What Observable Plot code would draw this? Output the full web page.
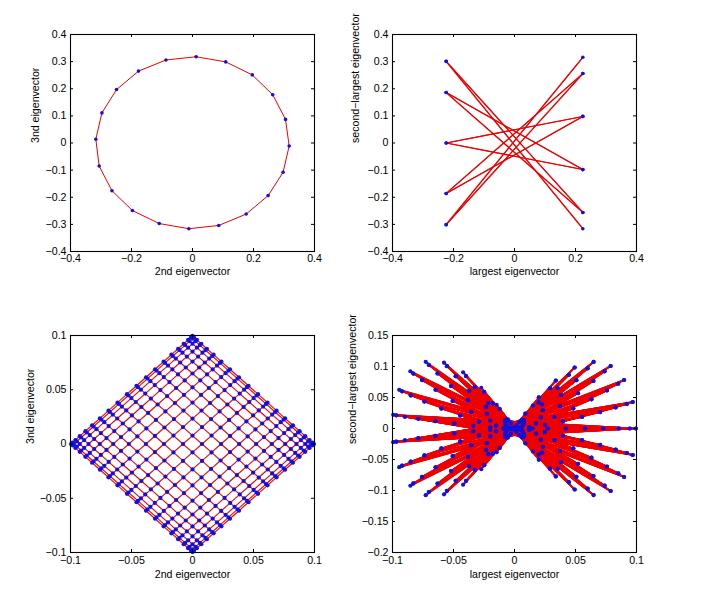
<!DOCTYPE html>
<html><head><meta charset="utf-8">
<script src="https://cdn.jsdelivr.net/npm/d3@7"></script>
<script src="https://cdn.jsdelivr.net/npm/@observablehq/plot@0.6"></script>
<style>
body{margin:0;background:#fff}
#c{position:relative;width:707px;height:610px;background:#fff;overflow:hidden}
#c svg{position:absolute}
</style>
</head><body><div id="c"></div>
<script>
// ---- Panel 1: ring graph, 2nd vs 3rd eigenvector
const ringX = [0.012, 0.109, 0.196, 0.263, 0.305, 0.317, 0.297, 0.248, 0.176, 0.086,
               -0.012, -0.109, -0.197, -0.264, -0.306, -0.317, -0.297, -0.249, -0.177, -0.087];
const ringY = [0.318, 0.299, 0.251, 0.178, 0.087, -0.011, -0.108, -0.194, -0.262, -0.304,
               -0.316, -0.297, -0.249, -0.176, -0.085, 0.014, 0.111, 0.197, 0.265, 0.306];

// ---- Panel 2: ring graph, largest vs second-largest eigenvector
const bipX = [0.224, -0.224, 0.224, -0.224, 0.224, -0.224, 0.224, -0.224, 0.224, -0.224,
              0.224, -0.224, 0.224, -0.224, 0.224, -0.224, 0.224, -0.224, 0.224, -0.224];
const bipY = [0.316, -0.301, 0.256, -0.186, 0.098, 0.000, -0.098, 0.186, -0.256, 0.301,
              -0.316, 0.301, -0.256, 0.186, -0.098, 0.000, 0.098, -0.186, 0.256, -0.301];

// ---- Panel 3: 20x20 grid graph, diagonal levels of the lattice
const gridLevels = [0.0498, 0.0486, 0.0462, 0.0426, 0.0380, 0.0325, 0.0261, 0.0191, 0.0117, 0.0039,
                    -0.0039, -0.0117, -0.0191, -0.0261, -0.0325, -0.0380, -0.0426, -0.0462, -0.0486, -0.0498];

// ---- Panel 4: 20x20 grid graph, largest eigenvectors: per-row amplitude levels
const bowS = [0.078, 0.233, 0.383, 0.522, 0.649, 0.760, 0.853, 0.924, 0.972, 0.997,
              0.997, 0.972, 0.924, 0.853, 0.760, 0.649, 0.522, 0.383, 0.233, 0.078];
const bowT = [0.156, 0.454, 0.707, 0.891, 0.988, 0.988, 0.891, 0.707, 0.454, 0.156,
              -0.156, -0.454, -0.707, -0.891, -0.988, -0.988, -0.891, -0.707, -0.454, -0.156];
const bowXScale = 0.1, bowYScale = 0.0707;

// ---- Tick values and labels
const ticksWide = [-0.4, -0.2, 0, 0.2, 0.4];
const ticksWideY = [-0.4, -0.3, -0.2, -0.1, 0, 0.1, 0.2, 0.3, 0.4];
const ticksNarrow = [-0.1, -0.05, 0, 0.05, 0.1];
const ticksBowY = [-0.2, -0.15, -0.1, -0.05, 0, 0.05, 0.1, 0.15];

const labels = {
  second: "2nd eigenvector",
  third: "3nd eigenvector",
  largest: "largest eigenvector",
  secondLargest: "second\u2212largest eigenvector"
};

// ---- build nodes / edges
function ringGraph(xs, ys) {
  const nodes = xs.map((x, i) => ({x, y: ys[i]}));
  const edges = nodes.map((a, i) => {
    const b = nodes[(i + 1) % nodes.length];
    return {x1: a.x, y1: a.y, x2: b.x, y2: b.y};
  });
  return {nodes, edges};
}
function gridGraph(pos) {
  const n = 20, nodes = [], idx = (i, j) => i * n + j;
  for (let i = 0; i < n; i++) for (let j = 0; j < n; j++) nodes.push(pos(i, j));
  const edges = [];
  for (let i = 0; i < n; i++) for (let j = 0; j < n; j++) {
    const a = nodes[idx(i, j)];
    if (i + 1 < n) { const b = nodes[idx(i + 1, j)]; edges.push({x1: a.x, y1: a.y, x2: b.x, y2: b.y}); }
    if (j + 1 < n) { const b = nodes[idx(i, j + 1)]; edges.push({x1: a.x, y1: a.y, x2: b.x, y2: b.y}); }
  }
  return {nodes, edges};
}

const g1 = ringGraph(ringX, ringY);
const g2 = ringGraph(bipX, bipY);
const g3 = gridGraph((i, j) => ({x: gridLevels[i] + gridLevels[j], y: gridLevels[i] - gridLevels[j]}));
const g4 = gridGraph((i, j) => {
  const sg = (i + j) % 2 === 0 ? 1 : -1;
  return {x: sg * bowXScale * bowS[i] * bowS[j],
          y: sg * bowYScale * (bowS[i] * bowT[j] - bowT[i] * bowS[j])};
});

const fmt = d => d === 0 ? "0" : (d < 0 ? "\u2212" : "") + Math.abs(d);

const ML = 70, MT = 34, FW = 244, FH = 217, MR = 24, MB = 56;
function panel({left, top, xDomain, yDomain, xTicks, yTicks, xLabel, yLabel, yLabelDx, xLabelDy, xPad, g, r, lw}) {
  const svg = Plot.plot({
    width: ML + FW + MR, height: MT + FH + MB,
    marginLeft: ML, marginTop: MT, marginRight: MR, marginBottom: MB,
    x: {domain: xDomain}, y: {domain: yDomain},
    style: {fontFamily: "'Liberation Sans', Arial, Helvetica, sans-serif", fontSize: "10.6px",
            color: "black", background: "transparent", overflow: "visible"},
    marks: [
      Plot.link(g.edges, {x1: "x1", y1: "y1", x2: "x2", y2: "y2", stroke: "#ee0000", strokeWidth: lw}),
      Plot.dot(g.nodes, {x: "x", y: "y", r, fill: "#1010e0", stroke: null}),
      Plot.frame({stroke: "black", strokeWidth: 1.1}),
      Plot.tickX(xTicks, {x: d => d, insetTop: FH - 3, stroke: "black"}),
      Plot.tickX(xTicks, {x: d => d, insetBottom: FH - 3, stroke: "black"}),
      Plot.tickY(yTicks, {y: d => d, insetRight: FW - 3, stroke: "black"}),
      Plot.tickY(yTicks, {y: d => d, insetLeft: FW - 3, stroke: "black"}),
      Plot.axisX({ticks: xTicks, tickFormat: fmt, tickSize: 0, tickPadding: xPad, label: null}),
      Plot.axisY({ticks: yTicks, tickFormat: fmt, tickSize: 0, tickPadding: 4, label: null}),
      Plot.text([xLabel], {frameAnchor: "bottom", dy: xLabelDy, text: d => d}),
      Plot.text([yLabel], {frameAnchor: "left", dx: yLabelDx, rotate: -90, text: d => d})
    ]
  });
  svg.style.left = (left - ML) + "px";
  svg.style.top = (top - MT) + "px";
  document.getElementById("c").append(svg);
}

panel({left: 70, top: 34, xDomain: [-0.4, 0.4], yDomain: [-0.4, 0.4], xTicks: ticksWide, yTicks: ticksWideY,
       xLabel: labels.second, yLabel: labels.third, yLabelDx: -35, xLabelDy: 23, xPad: 3, g: g1, r: 1.8, lw: 1});
panel({left: 392, top: 34, xDomain: [-0.4, 0.4], yDomain: [-0.4, 0.4], xTicks: ticksWide, yTicks: ticksWideY,
       xLabel: labels.largest, yLabel: labels.secondLargest, yLabelDx: -37, xLabelDy: 23, xPad: 3, g: g2, r: 1.8, lw: 1.1});
panel({left: 70, top: 335, xDomain: [-0.1, 0.1], yDomain: [-0.1, 0.1], xTicks: ticksNarrow, yTicks: ticksNarrow,
       xLabel: labels.second, yLabel: labels.third, yLabelDx: -40, xLabelDy: 25, xPad: 4, g: g3, r: 2.1, lw: 1.1});
panel({left: 392, top: 335, xDomain: [-0.1, 0.1], yDomain: [-0.2, 0.15], xTicks: ticksNarrow, yTicks: ticksBowY,
       xLabel: labels.largest, yLabel: labels.secondLargest, yLabelDx: -40, xLabelDy: 25, xPad: 4, g: g4, r: 2.1, lw: 1.5});
</script>
</body></html>
